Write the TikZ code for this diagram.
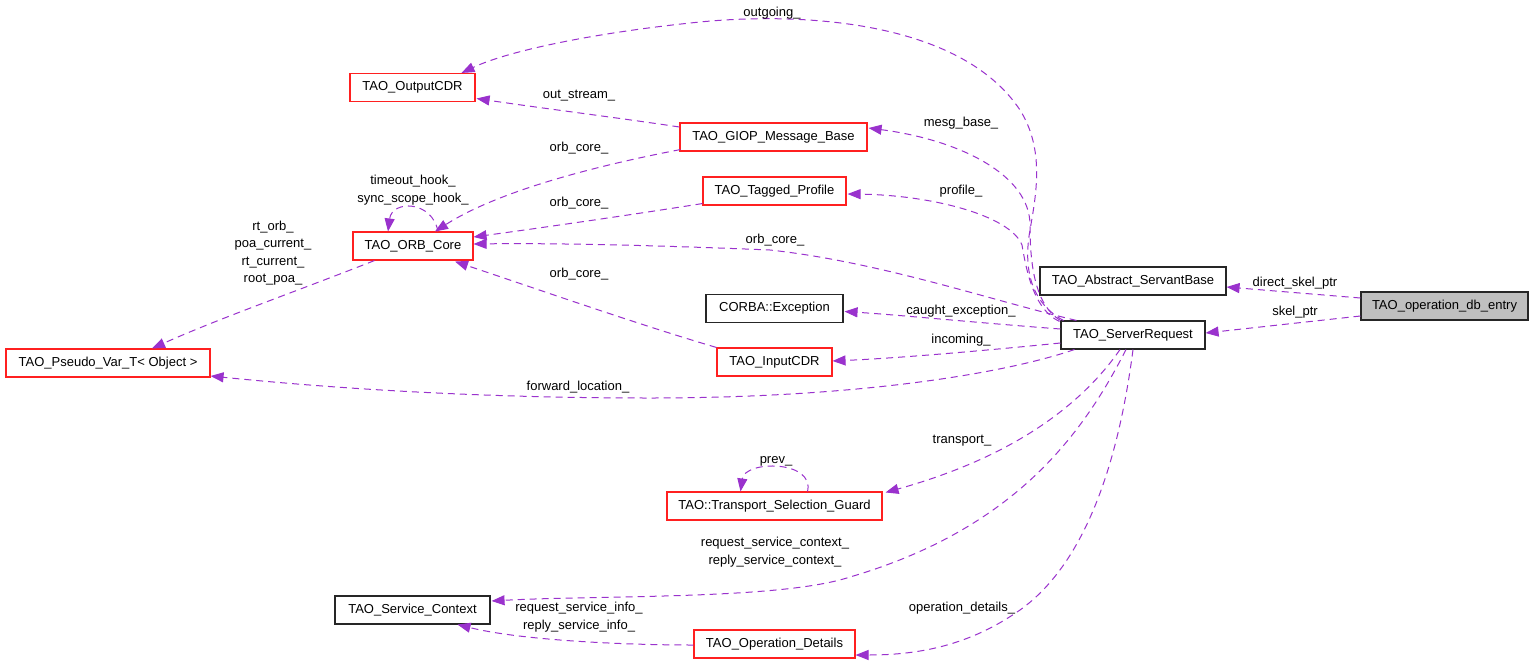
\documentclass[tikz,border=0pt]{standalone}
\usepackage{fontspec}
\setmainfont{Liberation Sans}
\usetikzlibrary{arrows.meta,calc}
\definecolor{edgec}{HTML}{9A32CD}
\definecolor{boxred}{HTML}{FF2020}
\definecolor{dbgray}{HTML}{BFBFBF}
\begin{document}
\begin{tikzpicture}[x=1pt,y=-1pt,
  font=\fontsize{13}{15}\selectfont,
  box/.style={draw, line width=1.1pt, minimum height=28pt, inner sep=0pt, anchor=center},
  redbox/.style={box, draw=boxred},
  blackbox/.style={box, draw=black!85},
  edge/.style={draw=edgec, line width=1pt, dash pattern=on 7pt off 5pt, -{Triangle[length=13pt,width=10pt]}},
  lbl/.style={inner sep=0pt, align=center, font=\fontsize{13}{17.3}\selectfont}]
\fill[white] (0,0) rectangle (1533,664);
\useasboundingbox (0,0) rectangle (1533,664);

% nodes
\node[redbox, minimum width=125pt] (ocdr) at (412.5,87.5) {TAO\_OutputCDR};
\node[redbox, minimum width=187pt] (giop) at (773.5,137) {TAO\_GIOP\_Message\_Base};
\node[redbox, minimum width=143pt] (tp) at (774.5,191) {TAO\_Tagged\_Profile};
\node[redbox, minimum width=120pt] (orb) at (413,246) {TAO\_ORB\_Core};
\node[redbox, minimum width=204pt] (pv) at (108,363) {TAO\_Pseudo\_Var\_T< Object >};
\node[blackbox, minimum width=137pt] (exc) at (774.5,308.5) {CORBA::Exception};
\node[redbox, minimum width=115pt] (icdr) at (774.5,362) {TAO\_InputCDR};
\node[blackbox, minimum width=186pt] (asb) at (1133,281) {TAO\_Abstract\_ServantBase};
\node[blackbox, fill=dbgray, minimum width=167pt] (odb) at (1444.5,306) {TAO\_operation\_db\_entry};
\node[blackbox, minimum width=144pt] (sr) at (1133,335) {TAO\_ServerRequest};
\node[redbox, minimum width=215pt] (tsg) at (774.5,506) {TAO::Transport\_Selection\_Guard};
\node[blackbox, minimum width=155pt] (sc) at (412.5,610) {TAO\_Service\_Context};
\node[redbox, minimum width=161pt] (od) at (774.5,644) {TAO\_Operation\_Details};

% edges
\draw[edge] ($(odb.west)+(0,-8)$) -- ($(asb.east)+(0,6)$);
\draw[edge] ($(odb.west)+(0,10)$) -- ($(sr.east)+(0,-2)$);
\draw[edge] ($(sr.north west)+(3,0)$) .. controls (1035,305) and (1022,275) .. (1030,230)
  .. controls (1036,195) and (1045,150) .. (1020,110)
  .. controls (960,20) and (800,12) .. (700,22)
  .. controls (600,32) and (510,50) .. ($(ocdr.north)+(49,0)$);
\draw[edge] (sr.north west) .. controls (1035,305) and (1030,265) .. (1030,225)
  .. controls (1030,175) and (960,140) .. ($(giop.east)+(1,-9)$);
\draw[edge] ($(sr.north west)+(-1,1)$) .. controls (1035,310) and (1027,275) .. (1022,245)
  .. controls (1010,215) and (930,195) .. ($(tp.east)+(1,3)$);
\draw[edge] ($(sr.north west)+(16,0)$) .. controls (990,300) and (880,262) .. (770,250)
  .. controls (650,245) and (550,243) .. ($(orb.east)+(0,-2)$);
\draw[edge] ($(sr.west)+(0,-6)$) .. controls (980,323) and (900,315) .. ($(exc.east)+(1,3)$);
\draw[edge] ($(sr.west)+(0,8)$) .. controls (980,351) and (900,358) .. ($(icdr.east)+(0,-1)$);
\draw[edge] ($(sr.south west)+(14,0)$) .. controls (1000,375) and (850,398) .. (650,398)
  .. controls (450,398) and (300,385) .. ($(pv.east)+(0,13)$);
\draw[edge] ($(sr.south)+(-13,0)$) .. controls (1085,400) and (1020,455) .. ($(tsg.north east)+(3,1)$);
\draw[edge] ($(sr.south)+(-7,0)$) .. controls (1080,440) and (1010,530) .. (850,577)
  .. controls (780,600) and (600,595) .. ($(sc.east)+(1,-9)$);
\draw[edge] (sr.south) .. controls (1120,450) and (1090,560) .. (1020,610)
  .. controls (970,645) and (920,655) .. ($(od.east)+(0,11)$);
\draw[edge] ($(giop.west)+(0,-10)$) .. controls (620,118) and (540,108) .. ($(ocdr.east)+(1,11)$);
\draw[edge] ($(giop.south west)+(1,-2)$) .. controls (600,165) and (500,190) .. ($(orb.north)+(22,0)$);
\draw[edge] ($(tp.south west)+(0,-2)$) .. controls (630,215) and (540,228) .. ($(orb.east)+(0,-9)$);
\draw[edge] (icdr.north west) .. controls (640,325) and (540,290) .. ($(orb.south)+(42,1)$);
\draw[edge] ($(orb.north)+(25,0)$) .. controls (432,200) and (392,200) .. ($(orb.north)+(-25,0)$);
\draw[edge] ($(orb.south west)+(22,0)$) .. controls (300,290) and (220,318) .. ($(pv.north)+(44,0)$);
\draw[edge] ($(tsg.north)+(33,0)$) .. controls (815,460) and (745,460) .. ($(tsg.north)+(-34,0)$);
\draw[edge] ($(od.west)+(0,1)$) .. controls (620,645) and (520,640) .. ($(sc.south)+(45,0)$);

% labels
\node[lbl] (l1) at (772,13) {outgoing\_};
\node[lbl] (l2) at (579,96) {out\_stream\_};
\node[lbl] (l3) at (961,123) {mesg\_base\_};
\node[lbl] (l4) at (579,148) {orb\_core\_};
\node[lbl] (l5) at (413,190) {timeout\_hook\_\\sync\_scope\_hook\_};
\node[lbl] (l6) at (961,191) {profile\_};
\node[lbl] (l7) at (579,203) {orb\_core\_};
\node[lbl] (l8) at (775,240) {orb\_core\_};
\node[lbl] (l9) at (273,253) {rt\_orb\_\\poa\_current\_\\rt\_current\_\\root\_poa\_};
\node[lbl] (l10) at (579,274) {orb\_core\_};
\node[lbl] (l11) at (1295,283) {direct\_skel\_ptr};
\node[lbl] (l12) at (1295,312) {skel\_ptr};
\node[lbl] (l13) at (961,311) {caught\_exception\_};
\node[lbl] (l14) at (961,340) {incoming\_};
\node[lbl] (l15) at (578,387) {forward\_location\_};
\node[lbl] (l16) at (962,441) {transport\_};
\node[lbl] (l17) at (776,461) {prev\_};
\node[lbl] (l18) at (775,552) {request\_service\_context\_\\reply\_service\_context\_};
\node[lbl] (l19) at (579,617) {request\_service\_info\_\\reply\_service\_info\_};
\node[lbl] (l20) at (962,608) {operation\_details\_};
\end{tikzpicture}
\end{document}
